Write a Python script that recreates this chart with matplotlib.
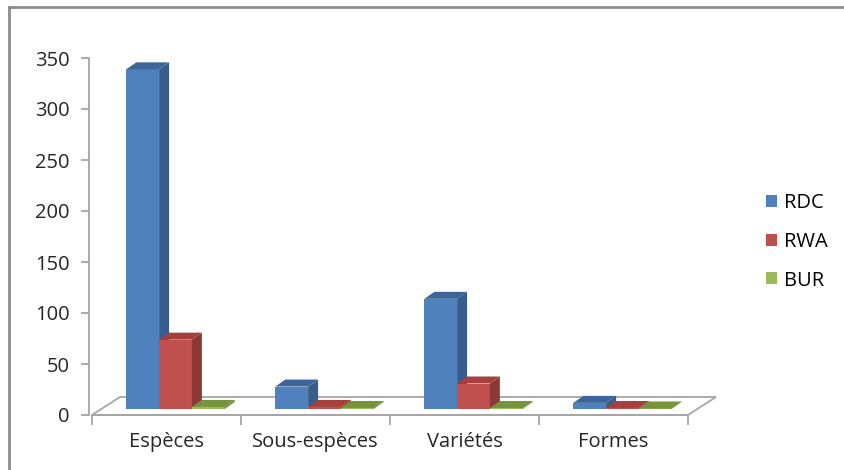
import matplotlib.pyplot as plt
from matplotlib.patches import Polygon, Patch
from matplotlib.lines import Line2D

categories = ['Espèces', 'Sous-espèces', 'Variétés', 'Formes']
series = ['RDC', 'RWA', 'BUR']
rdc = [333, 22, 108, 6]
rwa = [68, 2, 25, 1]
bur = [2, 1, 1, 0.5]
values = [rdc, rwa, bur]

front = ['#4F81BD', '#C0504D', '#9BBB59']
side = ['#385D8A', '#8C3836', '#71893F']
top = ['#3C669A', '#A5403D', '#77933C']

plt.rcParams['font.family'] = ['Open Sans', 'DejaVu Sans']
fs = 14.5

fig = plt.figure(figsize=(8.45, 4.7), dpi=100)
ax = fig.add_axes([89 / 845, 55 / 470, (725 - 89) / 845, 357 / 470])
ax.set_xlim(-0.02, (725 - 92) / 149)
ax.set_ylim(0, 350)

# profondeur (unités de données)
fdx, fdy = 28 / 149, 18 / 1.02      # plancher
bdx, bdy = 9 / 149, 6 / 1.02        # décalage avant des barres
ddx, ddy = 10 / 149, 7 / 1.02       # profondeur des barres
w = 0.22
start = 0.17

n = len(categories)
floor = Polygon([(0, 0), (n, 0), (n + fdx, fdy), (fdx, fdy)], closed=True,
                facecolor='white', edgecolor='#A6A6A6', lw=1.3, zorder=1, clip_on=False)
ax.add_patch(floor)

for i in range(n):
    for s in range(len(series)):
        h = values[s][i]
        x0 = i + start + s * w + bdx
        y0 = bdy
        ax.bar(x0, h, width=w, bottom=y0, align='edge', color=front[s],
               lw=0, zorder=2 + i * 3 + s, clip_on=False)
        sp = Polygon([(x0 + w, y0), (x0 + w + ddx, y0 + ddy),
                      (x0 + w + ddx, y0 + h + ddy), (x0 + w, y0 + h)],
                     closed=True, facecolor=side[s], lw=0, zorder=2 + i * 3 + s, clip_on=False)
        tp = Polygon([(x0, y0 + h), (x0 + ddx, y0 + h + ddy),
                      (x0 + w + ddx, y0 + h + ddy), (x0 + w, y0 + h)],
                     closed=True, facecolor=top[s], lw=0, zorder=2 + i * 3 + s, clip_on=False)
        ax.add_patch(sp)
        ax.add_patch(tp)

for k in ['top', 'right']:
    ax.spines[k].set_visible(False)
ax.spines['left'].set_bounds(0, 350)
ax.spines['bottom'].set_bounds(0, n)
ax.spines['left'].set_color('#A6A6A6')
ax.spines['bottom'].set_color('#A6A6A6')
ax.spines['left'].set_linewidth(1.3)
ax.spines['bottom'].set_linewidth(1.3)

ax.set_yticks(range(0, 351, 50))
ax.tick_params(axis='y', length=6, width=1.3, color='#A6A6A6', pad=8,
               labelsize=fs, labelcolor='#262626')
ax.set_xticks(range(0, n + 1))
ax.set_xticklabels([])
ax.set_xticks([i + 0.5 for i in range(n)], minor=True)
ax.set_xticklabels(categories, minor=True)
ax.tick_params(axis='x', which='major', length=7, width=1.3, color='#A6A6A6')
ax.tick_params(axis='x', which='minor', length=0, pad=12.5, labelsize=fs,
               labelcolor='#262626')

handles = [Patch(facecolor=front[s], edgecolor='none') for s in range(len(series))]
fig.legend(handles, series, loc='center left', bbox_to_anchor=(748 / 845, 1 - 242 / 470),
           frameon=False, fontsize=fs, handlelength=0.55, handleheight=0.55,
           handletextpad=0.35, labelspacing=0.92)

# cadre
fig.add_artist(Line2D([9 / 845, 1], [1 - 7 / 470, 1 - 7 / 470], color='#8C8C8C', lw=2))
fig.add_artist(Line2D([9 / 845, 9 / 845], [0, 1 - 7 / 470], color='#8C8C8C', lw=2))

fig.savefig('out.png', dpi=100)
